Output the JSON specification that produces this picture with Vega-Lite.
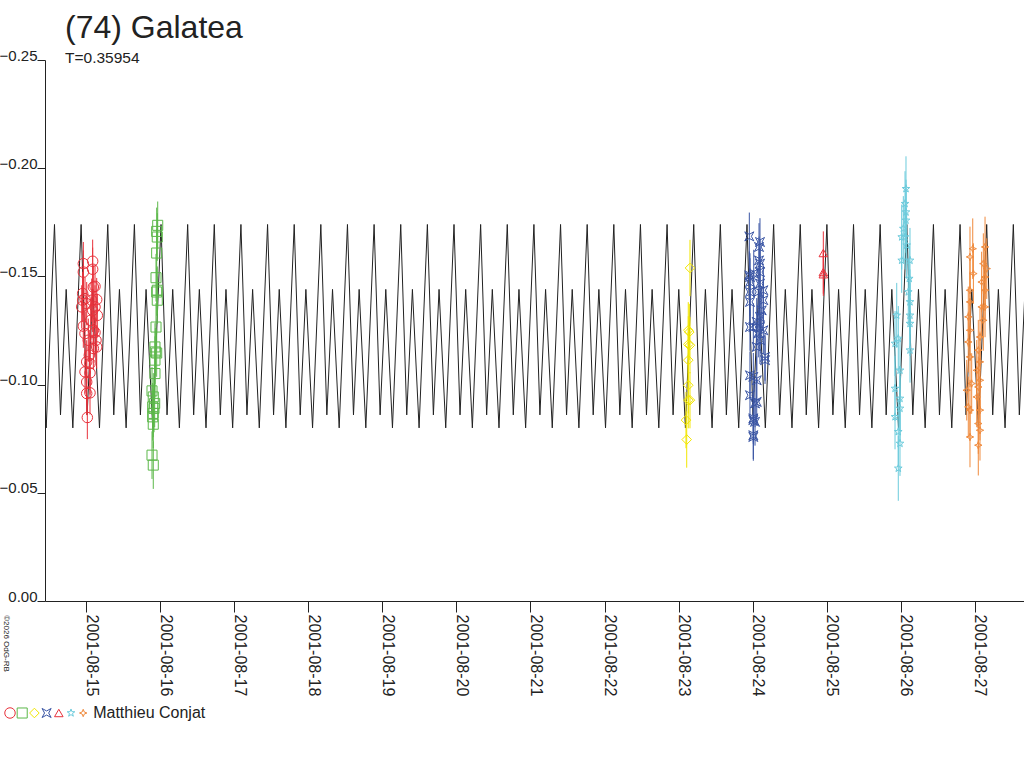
{
  "$schema": "https://vega.github.io/schema/vega-lite/v6.json",
  "width": 979,
  "height": 541,
  "autosize": "none",
  "padding": {"left": 45, "top": 60, "right": 0, "bottom": 167},
  "background": "white",
  "title": {
    "text": "(74) Galatea",
    "subtitle": "T=0.35954",
    "anchor": "start",
    "frame": "group",
    "dx": 20,
    "offset": -19,
    "font": "Liberation Sans",
    "fontSize": 32,
    "fontWeight": "normal",
    "color": "#222",
    "subtitleFont": "Liberation Sans",
    "subtitleFontSize": 15.5,
    "subtitleColor": "#222",
    "subtitlePadding": 6
  },
  "config": {
    "view": {"stroke": null},
    "axis": {
      "labelFont": "Liberation Sans",
      "labelFontSize": 16,
      "labelColor": "#222",
      "domainColor": "#222",
      "tickColor": "#222",
      "grid": false
    }
  },
  "resolve": {"legend": {"color": "independent", "shape": "independent", "size": "independent"}},
  "datasets": {
    "curve": [
      {"d": -0.6272, "v": -0.144}, {"d": -0.5372, "v": -0.080},
      {"d": -0.4254, "v": -0.174}, {"d": -0.3443, "v": -0.086}, {"d": -0.2677, "v": -0.144}, {"d": -0.1777, "v": -0.080},
      {"d": -0.0659, "v": -0.174}, {"d": 0.0152, "v": -0.086}, {"d": 0.0918, "v": -0.144}, {"d": 0.1818, "v": -0.080},
      {"d": 0.2937, "v": -0.174}, {"d": 0.3748, "v": -0.086}, {"d": 0.4514, "v": -0.144}, {"d": 0.5414, "v": -0.080},
      {"d": 0.6532, "v": -0.174}, {"d": 0.7343, "v": -0.086}, {"d": 0.8109, "v": -0.144}, {"d": 0.9009, "v": -0.080},
      {"d": 1.0128, "v": -0.174}, {"d": 1.0939, "v": -0.086}, {"d": 1.1705, "v": -0.144}, {"d": 1.2605, "v": -0.080},
      {"d": 1.3723, "v": -0.174}, {"d": 1.4534, "v": -0.086}, {"d": 1.5300, "v": -0.144}, {"d": 1.6200, "v": -0.080},
      {"d": 1.7318, "v": -0.174}, {"d": 1.8129, "v": -0.086}, {"d": 1.8895, "v": -0.144}, {"d": 1.9795, "v": -0.080},
      {"d": 2.0914, "v": -0.174}, {"d": 2.1725, "v": -0.086}, {"d": 2.2491, "v": -0.144}, {"d": 2.3391, "v": -0.080},
      {"d": 2.4509, "v": -0.174}, {"d": 2.5320, "v": -0.086}, {"d": 2.6086, "v": -0.144}, {"d": 2.6986, "v": -0.080},
      {"d": 2.8105, "v": -0.174}, {"d": 2.8916, "v": -0.086}, {"d": 2.9682, "v": -0.144}, {"d": 3.0582, "v": -0.080},
      {"d": 3.1700, "v": -0.174}, {"d": 3.2511, "v": -0.086}, {"d": 3.3277, "v": -0.144}, {"d": 3.4177, "v": -0.080},
      {"d": 3.5295, "v": -0.174}, {"d": 3.6106, "v": -0.086}, {"d": 3.6872, "v": -0.144}, {"d": 3.7772, "v": -0.080},
      {"d": 3.8891, "v": -0.174}, {"d": 3.9702, "v": -0.086}, {"d": 4.0468, "v": -0.144}, {"d": 4.1368, "v": -0.080},
      {"d": 4.2486, "v": -0.174}, {"d": 4.3297, "v": -0.086}, {"d": 4.4063, "v": -0.144}, {"d": 4.4963, "v": -0.080},
      {"d": 4.6082, "v": -0.174}, {"d": 4.6893, "v": -0.086}, {"d": 4.7659, "v": -0.144}, {"d": 4.8559, "v": -0.080},
      {"d": 4.9677, "v": -0.174}, {"d": 5.0488, "v": -0.086}, {"d": 5.1254, "v": -0.144}, {"d": 5.2154, "v": -0.080},
      {"d": 5.3272, "v": -0.174}, {"d": 5.4083, "v": -0.086}, {"d": 5.4849, "v": -0.144}, {"d": 5.5749, "v": -0.080},
      {"d": 5.6868, "v": -0.174}, {"d": 5.7679, "v": -0.086}, {"d": 5.8445, "v": -0.144}, {"d": 5.9345, "v": -0.080},
      {"d": 6.0463, "v": -0.174}, {"d": 6.1274, "v": -0.086}, {"d": 6.2040, "v": -0.144}, {"d": 6.2940, "v": -0.080},
      {"d": 6.4059, "v": -0.174}, {"d": 6.4870, "v": -0.086}, {"d": 6.5636, "v": -0.144}, {"d": 6.6536, "v": -0.080},
      {"d": 6.7654, "v": -0.174}, {"d": 6.8465, "v": -0.086}, {"d": 6.9231, "v": -0.144}, {"d": 7.0131, "v": -0.080},
      {"d": 7.1249, "v": -0.174}, {"d": 7.2060, "v": -0.086}, {"d": 7.2826, "v": -0.144}, {"d": 7.3726, "v": -0.080},
      {"d": 7.4845, "v": -0.174}, {"d": 7.5656, "v": -0.086}, {"d": 7.6422, "v": -0.144}, {"d": 7.7322, "v": -0.080},
      {"d": 7.8440, "v": -0.174}, {"d": 7.9251, "v": -0.086}, {"d": 8.0017, "v": -0.144}, {"d": 8.0917, "v": -0.080},
      {"d": 8.2036, "v": -0.174}, {"d": 8.2847, "v": -0.086}, {"d": 8.3613, "v": -0.144}, {"d": 8.4513, "v": -0.080},
      {"d": 8.5631, "v": -0.174}, {"d": 8.6442, "v": -0.086}, {"d": 8.7208, "v": -0.144}, {"d": 8.8108, "v": -0.080},
      {"d": 8.9226, "v": -0.174}, {"d": 9.0037, "v": -0.086}, {"d": 9.0803, "v": -0.144}, {"d": 9.1703, "v": -0.080},
      {"d": 9.2822, "v": -0.174}, {"d": 9.3633, "v": -0.086}, {"d": 9.4399, "v": -0.144}, {"d": 9.5299, "v": -0.080},
      {"d": 9.6417, "v": -0.174}, {"d": 9.7228, "v": -0.086}, {"d": 9.7994, "v": -0.144}, {"d": 9.8894, "v": -0.080},
      {"d": 10.0013, "v": -0.174}, {"d": 10.0824, "v": -0.086}, {"d": 10.1590, "v": -0.144}, {"d": 10.2490, "v": -0.080},
      {"d": 10.3608, "v": -0.174}, {"d": 10.4419, "v": -0.086}, {"d": 10.5185, "v": -0.144}, {"d": 10.6085, "v": -0.080},
      {"d": 10.7203, "v": -0.174}, {"d": 10.8014, "v": -0.086}, {"d": 10.8780, "v": -0.144}, {"d": 10.9680, "v": -0.080},
      {"d": 11.0799, "v": -0.174}, {"d": 11.1610, "v": -0.086}, {"d": 11.2376, "v": -0.144}, {"d": 11.3276, "v": -0.080},
      {"d": 11.4394, "v": -0.174}, {"d": 11.5205, "v": -0.086}, {"d": 11.5971, "v": -0.144}, {"d": 11.6871, "v": -0.080},
      {"d": 11.7990, "v": -0.174}, {"d": 11.8801, "v": -0.086}, {"d": 11.9567, "v": -0.144}, {"d": 12.0467, "v": -0.080},
      {"d": 12.1585, "v": -0.174}, {"d": 12.2396, "v": -0.086}, {"d": 12.3162, "v": -0.144}, {"d": 12.4062, "v": -0.080},
      {"d": 12.5180, "v": -0.174}, {"d": 12.5991, "v": -0.086}, {"d": 12.6757, "v": -0.144}
    ],
    "obs": [
      {"s": "s1", "d": -0.036, "v": -0.1559, "e": 0.010}, {"s": "s1", "d": 0.090, "v": -0.1570, "e": 0.010},
      {"s": "s1", "d": 0.090, "v": -0.1533, "e": 0.010}, {"s": "s1", "d": -0.036, "v": -0.1520, "e": 0.010},
      {"s": "s1", "d": 0.1215, "v": -0.1454, "e": 0.010}, {"s": "s1", "d": -0.045, "v": -0.1421, "e": 0.010},
      {"s": "s1", "d": -0.0135, "v": -0.1397, "e": 0.010}, {"s": "s1", "d": -0.058, "v": -0.1359, "e": 0.010},
      {"s": "s1", "d": 0.1444, "v": -0.1393, "e": 0.010}, {"s": "s1", "d": 0.1215, "v": -0.1359, "e": 0.010},
      {"s": "s1", "d": 0.153, "v": -0.1320, "e": 0.010}, {"s": "s1", "d": -0.036, "v": -0.1270, "e": 0.010},
      {"s": "s1", "d": -0.0135, "v": -0.1236, "e": 0.010}, {"s": "s1", "d": 0.1215, "v": -0.1241, "e": 0.010},
      {"s": "s1", "d": 0.135, "v": -0.1205, "e": 0.010}, {"s": "s1", "d": 0.1444, "v": -0.1174, "e": 0.010},
      {"s": "s1", "d": 0.099, "v": -0.1167, "e": 0.010}, {"s": "s1", "d": 0.0094, "v": -0.1105, "e": 0.010},
      {"s": "s1", "d": 0.054, "v": -0.1097, "e": 0.010}, {"s": "s1", "d": -0.0135, "v": -0.1059, "e": 0.010},
      {"s": "s1", "d": 0.054, "v": -0.1054, "e": 0.010}, {"s": "s1", "d": 0.0094, "v": -0.1012, "e": 0.010},
      {"s": "s1", "d": 0.0094, "v": -0.0959, "e": 0.010}, {"s": "s1", "d": 0.054, "v": -0.0962, "e": 0.010},
      {"s": "s1", "d": 0.018, "v": -0.0848, "e": 0.010}, {"s": "s1", "d": -0.045, "v": -0.1390, "e": 0.010},
      {"s": "s1", "d": 0.0094, "v": -0.1374, "e": 0.010}, {"s": "s1", "d": 0.077, "v": -0.1390, "e": 0.010},
      {"s": "s1", "d": 0.090, "v": -0.1343, "e": 0.010}, {"s": "s1", "d": 0.063, "v": -0.1297, "e": 0.010},
      {"s": "s1", "d": 0.099, "v": -0.1451, "e": 0.010}, {"s": "s1", "d": 0.031, "v": -0.1205, "e": 0.010},
      {"s": "s1", "d": 0.099, "v": -0.1251, "e": 0.010}, {"s": "s1", "d": 0.045, "v": -0.1136, "e": 0.010},
      {"s": "s2", "d": 0.968, "v": -0.1736, "e": 0.011}, {"s": "s2", "d": 0.962, "v": -0.1682, "e": 0.011},
      {"s": "s2", "d": 0.954, "v": -0.1608, "e": 0.011}, {"s": "s2", "d": 0.945, "v": -0.1494, "e": 0.011},
      {"s": "s2", "d": 0.962, "v": -0.1436, "e": 0.011}, {"s": "s2", "d": 0.962, "v": -0.1390, "e": 0.011},
      {"s": "s2", "d": 0.945, "v": -0.1266, "e": 0.011}, {"s": "s2", "d": 0.931, "v": -0.1174, "e": 0.011},
      {"s": "s2", "d": 0.954, "v": -0.1146, "e": 0.011}, {"s": "s2", "d": 0.931, "v": -0.1113, "e": 0.011},
      {"s": "s2", "d": 0.931, "v": -0.1051, "e": 0.011}, {"s": "s2", "d": 0.891, "v": -0.0971, "e": 0.011},
      {"s": "s2", "d": 0.908, "v": -0.0943, "e": 0.011}, {"s": "s2", "d": 0.900, "v": -0.0897, "e": 0.011},
      {"s": "s2", "d": 0.918, "v": -0.0890, "e": 0.011}, {"s": "s2", "d": 0.900, "v": -0.0851, "e": 0.011},
      {"s": "s2", "d": 0.908, "v": -0.0817, "e": 0.011}, {"s": "s2", "d": 0.891, "v": -0.0674, "e": 0.011},
      {"s": "s2", "d": 0.908, "v": -0.0628, "e": 0.011}, {"s": "s2", "d": 0.954, "v": -0.1708, "e": 0.011},
      {"s": "s2", "d": 0.954, "v": -0.1428, "e": 0.011}, {"s": "s2", "d": 0.936, "v": -0.1151, "e": 0.011},
      {"s": "s2", "d": 0.927, "v": -0.0913, "e": 0.011}, {"s": "s2", "d": 0.908, "v": -0.0867, "e": 0.011},
      {"s": "s3", "d": 8.153, "v": -0.1539, "e": 0.013}, {"s": "s3", "d": 8.130, "v": -0.1251, "e": 0.013},
      {"s": "s3", "d": 8.144, "v": -0.1243, "e": 0.013}, {"s": "s3", "d": 8.130, "v": -0.1186, "e": 0.013},
      {"s": "s3", "d": 8.153, "v": -0.1182, "e": 0.013}, {"s": "s3", "d": 8.130, "v": -0.1113, "e": 0.013},
      {"s": "s3", "d": 8.130, "v": -0.0997, "e": 0.013}, {"s": "s3", "d": 8.130, "v": -0.0928, "e": 0.013},
      {"s": "s3", "d": 8.153, "v": -0.0928, "e": 0.013}, {"s": "s3", "d": 8.099, "v": -0.0836, "e": 0.013},
      {"s": "s3", "d": 8.109, "v": -0.0746, "e": 0.013},
      {"s": "s4", "d": 8.954, "v": -0.1685, "e": 0.011}, {"s": "s4", "d": 9.085, "v": -0.1636, "e": 0.011},
      {"s": "s4", "d": 9.085, "v": -0.1574, "e": 0.011}, {"s": "s4", "d": 9.098, "v": -0.1559, "e": 0.011},
      {"s": "s4", "d": 8.963, "v": -0.1497, "e": 0.011}, {"s": "s4", "d": 9.098, "v": -0.1520, "e": 0.011},
      {"s": "s4", "d": 8.963, "v": -0.1474, "e": 0.011}, {"s": "s4", "d": 9.098, "v": -0.1467, "e": 0.011},
      {"s": "s4", "d": 8.963, "v": -0.1428, "e": 0.011}, {"s": "s4", "d": 9.075, "v": -0.1428, "e": 0.011},
      {"s": "s4", "d": 8.963, "v": -0.1382, "e": 0.011}, {"s": "s4", "d": 9.143, "v": -0.1390, "e": 0.011},
      {"s": "s4", "d": 9.121, "v": -0.1343, "e": 0.011}, {"s": "s4", "d": 9.098, "v": -0.1313, "e": 0.011},
      {"s": "s4", "d": 9.054, "v": -0.1290, "e": 0.011}, {"s": "s4", "d": 8.963, "v": -0.1266, "e": 0.011},
      {"s": "s4", "d": 9.098, "v": -0.1266, "e": 0.011}, {"s": "s4", "d": 9.143, "v": -0.1251, "e": 0.011},
      {"s": "s4", "d": 9.075, "v": -0.1236, "e": 0.011}, {"s": "s4", "d": 9.098, "v": -0.1205, "e": 0.011},
      {"s": "s4", "d": 9.166, "v": -0.1113, "e": 0.011}, {"s": "s4", "d": 9.054, "v": -0.1174, "e": 0.011},
      {"s": "s4", "d": 8.963, "v": -0.1043, "e": 0.011}, {"s": "s4", "d": 9.054, "v": -0.1020, "e": 0.011},
      {"s": "s4", "d": 8.963, "v": -0.0951, "e": 0.011}, {"s": "s4", "d": 9.031, "v": -0.0913, "e": 0.011},
      {"s": "s4", "d": 9.008, "v": -0.0844, "e": 0.011}, {"s": "s4", "d": 9.031, "v": -0.0828, "e": 0.011},
      {"s": "s4", "d": 9.008, "v": -0.0758, "e": 0.011}, {"s": "s4", "d": 8.954, "v": -0.1505, "e": 0.011},
      {"s": "s4", "d": 9.098, "v": -0.1659, "e": 0.011}, {"s": "s4", "d": 9.014, "v": -0.1513, "e": 0.011},
      {"s": "s4", "d": 9.143, "v": -0.1436, "e": 0.011}, {"s": "s4", "d": 9.008, "v": -0.1266, "e": 0.011},
      {"s": "s4", "d": 9.166, "v": -0.1128, "e": 0.011}, {"s": "s4", "d": 9.008, "v": -0.1036, "e": 0.011},
      {"s": "s4", "d": 9.054, "v": -0.0920, "e": 0.011}, {"s": "s4", "d": 9.008, "v": -0.0836, "e": 0.011},
      {"s": "s4", "d": 9.008, "v": -0.0766, "e": 0.011},
      {"s": "s5", "d": 9.953, "v": -0.1608, "e": 0.010}, {"s": "s5", "d": 9.953, "v": -0.1520, "e": 0.010},
      {"s": "s5", "d": 9.953, "v": -0.1510, "e": 0.010},
      {"s": "s6", "d": 11.069, "v": -0.1905, "e": 0.015}, {"s": "s6", "d": 11.056, "v": -0.1836, "e": 0.015},
      {"s": "s6", "d": 11.069, "v": -0.1797, "e": 0.015}, {"s": "s6", "d": 11.069, "v": -0.1759, "e": 0.015},
      {"s": "s6", "d": 11.033, "v": -0.1721, "e": 0.015}, {"s": "s6", "d": 11.056, "v": -0.1682, "e": 0.015},
      {"s": "s6", "d": 11.011, "v": -0.1574, "e": 0.015}, {"s": "s6", "d": 11.123, "v": -0.1574, "e": 0.015},
      {"s": "s6", "d": 11.113, "v": -0.1490, "e": 0.015}, {"s": "s6", "d": 11.100, "v": -0.1428, "e": 0.015},
      {"s": "s6", "d": 11.123, "v": -0.1382, "e": 0.015}, {"s": "s6", "d": 10.944, "v": -0.1320, "e": 0.015},
      {"s": "s6", "d": 11.123, "v": -0.1320, "e": 0.015}, {"s": "s6", "d": 11.123, "v": -0.1282, "e": 0.015},
      {"s": "s6", "d": 10.965, "v": -0.1213, "e": 0.015}, {"s": "s6", "d": 10.921, "v": -0.1190, "e": 0.015},
      {"s": "s6", "d": 11.123, "v": -0.1159, "e": 0.015}, {"s": "s6", "d": 10.988, "v": -0.1066, "e": 0.015},
      {"s": "s6", "d": 10.921, "v": -0.0982, "e": 0.015}, {"s": "s6", "d": 10.988, "v": -0.0936, "e": 0.015},
      {"s": "s6", "d": 10.988, "v": -0.0890, "e": 0.015}, {"s": "s6", "d": 10.921, "v": -0.0851, "e": 0.015},
      {"s": "s6", "d": 10.965, "v": -0.0782, "e": 0.015}, {"s": "s6", "d": 10.988, "v": -0.0728, "e": 0.015},
      {"s": "s6", "d": 10.965, "v": -0.0613, "e": 0.015}, {"s": "s6", "d": 11.011, "v": -0.1682, "e": 0.015},
      {"s": "s6", "d": 11.078, "v": -0.1644, "e": 0.015},
      {"s": "s7", "d": 11.970, "v": -0.1628, "e": 0.014}, {"s": "s7", "d": 12.136, "v": -0.1636, "e": 0.014},
      {"s": "s7", "d": 11.933, "v": -0.1590, "e": 0.014}, {"s": "s7", "d": 12.113, "v": -0.1559, "e": 0.014},
      {"s": "s7", "d": 12.159, "v": -0.1536, "e": 0.014}, {"s": "s7", "d": 11.979, "v": -0.1513, "e": 0.014},
      {"s": "s7", "d": 12.090, "v": -0.1474, "e": 0.014}, {"s": "s7", "d": 11.933, "v": -0.1436, "e": 0.014},
      {"s": "s7", "d": 12.136, "v": -0.1436, "e": 0.014}, {"s": "s7", "d": 11.933, "v": -0.1382, "e": 0.014},
      {"s": "s7", "d": 12.090, "v": -0.1359, "e": 0.014}, {"s": "s7", "d": 11.910, "v": -0.1313, "e": 0.014},
      {"s": "s7", "d": 12.113, "v": -0.1297, "e": 0.014}, {"s": "s7", "d": 11.933, "v": -0.1251, "e": 0.014},
      {"s": "s7", "d": 12.068, "v": -0.1220, "e": 0.014}, {"s": "s7", "d": 11.910, "v": -0.1197, "e": 0.014},
      {"s": "s7", "d": 12.045, "v": -0.1159, "e": 0.014}, {"s": "s7", "d": 11.933, "v": -0.1128, "e": 0.014},
      {"s": "s7", "d": 12.068, "v": -0.1105, "e": 0.014}, {"s": "s7", "d": 12.024, "v": -0.1066, "e": 0.014},
      {"s": "s7", "d": 12.068, "v": -0.1020, "e": 0.014}, {"s": "s7", "d": 11.889, "v": -0.0974, "e": 0.014},
      {"s": "s7", "d": 12.045, "v": -0.0989, "e": 0.014}, {"s": "s7", "d": 12.024, "v": -0.0943, "e": 0.014},
      {"s": "s7", "d": 11.910, "v": -0.0897, "e": 0.014}, {"s": "s7", "d": 11.933, "v": -0.0882, "e": 0.014},
      {"s": "s7", "d": 12.068, "v": -0.0882, "e": 0.014}, {"s": "s7", "d": 12.045, "v": -0.0820, "e": 0.014},
      {"s": "s7", "d": 11.933, "v": -0.0758, "e": 0.014}, {"s": "s7", "d": 12.068, "v": -0.0789, "e": 0.014},
      {"s": "s7", "d": 12.045, "v": -0.0720, "e": 0.014}, {"s": "s7", "d": 12.136, "v": -0.1497, "e": 0.014},
      {"s": "s7", "d": 12.136, "v": -0.1359, "e": 0.014}, {"s": "s7", "d": 11.956, "v": -0.1005, "e": 0.014}
    ]
  },
  "encoding": {
    "x": {
      "field": "d",
      "type": "quantitative",
      "scale": {"domain": [-0.5535, 12.662], "nice": false, "zero": false},
      "axis": {
        "title": null,
        "values": [0, 1, 2, 3, 4, 5, 6, 7, 8, 9, 10, 11, 12],
        "labelExpr": "'2001-08-' + (15 + datum.value)",
        "labelAngle": 90,
        "labelAlign": "left",
        "labelBaseline": "alphabetic",
        "tickSize": 11,
        "labelPadding": 2,
        "labelFlush": false,
        "labelOverlap": false
      }
    },
    "y": {
      "field": "v",
      "type": "quantitative",
      "scale": {"domain": [-0.25, 0], "reverse": true, "nice": false, "zero": false},
      "axis": {
        "title": "©2026 OdG-RB",
        "titleFont": "Liberation Sans",
        "titleFontSize": 8,
        "titleFontWeight": "normal",
        "titleColor": "#222",
        "titleAngle": 90,
        "titleAlign": "center",
        "titleBaseline": "middle",
        "titleX": -40,
        "titleY": 583,
        "values": [-0.25, -0.2, -0.15, -0.1, -0.05, 0],
        "format": ".2f",
        "tickSize": 8,
        "labelFontSize": 15,
        "labelPadding": 0,
        "labelBaseline": "alphabetic",
        "labelFlush": false,
        "labelOverlap": false
      }
    }
  },
  "layer": [
    {
      "data": {"name": "curve"},
      "mark": {"type": "line", "color": "#222", "strokeWidth": 1, "clip": true},
      "encoding": {}
    },
    {
      "data": {"name": "obs"},
      "mark": {"type": "errorbar", "thickness": 1},
      "encoding": {
        "yError": {"field": "e"},
        "color": {"field": "s", "type": "nominal", "legend": null}
      }
    },
    {
      "data": {"name": "obs"},
      "mark": {"type": "point", "filled": false, "strokeWidth": 1, "opacity": 1},
      "encoding": {
        "color": {
          "field": "s",
          "type": "nominal",
          "scale": {
            "domain": ["s1", "s2", "s3", "s4", "s5", "s6", "s7"],
            "range": ["#e8323c", "#5cb84a", "#f2e600", "#3a55a4", "#e8323c", "#6ccbdc", "#f08a3c"]
          },
          "legend": {
            "orient": "none",
            "legendX": -43,
            "legendY": 645,
            "direction": "horizontal",
            "title": null,
            "labelExpr": "datum.value == 's7' ? '\u00a0Matthieu Conjat' : ''",
            "labelFont": "Liberation Sans",
            "labelFontSize": 16,
            "labelColor": "#222",
            "symbolSize": 100,
            "symbolStrokeWidth": 1,
            "labelOffset": 2,
            "columnPadding": -5.8,
            "gridAlign": "none",
            "padding": 0
          }
        },
        "shape": {
          "field": "s",
          "type": "nominal",
          "scale": {
            "domain": ["s1", "s2", "s3", "s4", "s5", "s6", "s7"],
            "range": [
              "circle",
              "square",
              "diamond",
              "M-1,-1L0,-0.45L1,-1L0.45,0L1,1L0,0.45L-1,1L-0.45,0Z",
              "triangle-up",
              "M0,-1L0.235,-0.324L0.951,-0.309L0.38,0.124L0.588,0.809L0,0.4L-0.588,0.809L-0.38,0.124L-0.951,-0.309L-0.235,-0.324Z",
              "M0,-1L0.28,-0.28L1,0L0.28,0.28L0,1L-0.28,0.28L-1,0L-0.28,-0.28Z"
            ]
          }
        },
        "size": {
          "field": "s",
          "type": "nominal",
          "scale": {
            "domain": ["s1", "s2", "s3", "s4", "s5", "s6", "s7"],
            "range": [110, 55, 100, 80, 90, 130, 110]
          },
          "legend": null
        }
      }
    }
  ]
}
